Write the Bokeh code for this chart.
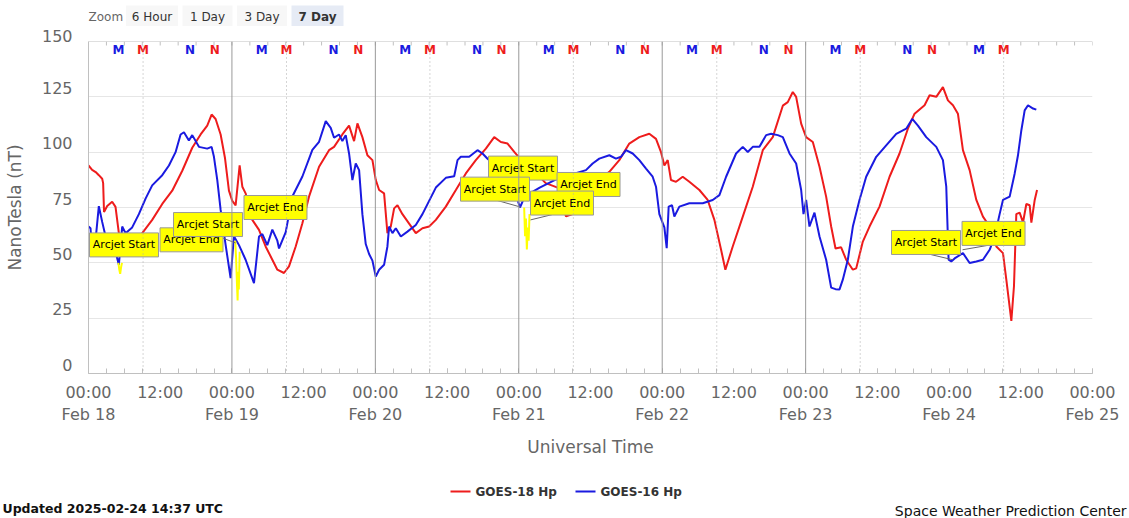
from bokeh.plotting import figure
from bokeh.layouts import column
from bokeh.models import Range1d, FixedTicker, Span
from bokeh.core.properties import value
from bokeh.embed import file_html
from bokeh.resources import INLINE

# ---------------- data (hours since 2025-02-18 00:00 UT) ----------------
g18_t = [0.0, 0.61, 1.2, 1.73, 2.29, 2.45, 2.6, 3.13, 3.96, 4.52, 5.08, 5.36, 6.0, 7.0, 8.0,
         8.99, 10.66, 12.34, 14.01, 15.69, 17.36, 18.76, 19.87, 20.6, 21.27, 22.11, 22.83,
         23.5, 24.06, 24.62, 25.29, 25.74, 26.29, 27.41, 28.53, 29.64, 30.76, 31.6, 32.71,
         33.55, 34.67, 35.79, 36.9, 38.58, 40.25, 41.09, 42.48, 43.6, 44.44, 45.0, 45.83,
         46.67, 47.51, 48.07, 48.63, 49.46, 50.02, 50.58, 51.14, 51.7, 52.53, 53.65, 54.77,
         55.88, 57.0, 58.12, 59.79, 61.47, 63.14, 64.81, 66.49, 67.89, 69.0, 70.12, 71.24,
         71.96, 74.0, 76.5, 78.5, 79.9, 81.0, 82.5, 84.7, 87.15, 88.82, 90.49, 92.17, 93.84,
         94.96, 95.8, 96.36, 96.92, 97.47, 98.31, 99.43, 100.54, 102.22, 103.61, 104.73,
         105.85, 106.57, 107.8, 109.48, 111.15, 112.83, 114.5, 116.18, 117.01, 117.85,
         118.41, 119.25, 120.08, 121.2, 122.32, 123.43, 124.27, 125.0, 125.94, 126.78,
         127.9, 128.46, 129.57, 130.69, 132.36, 134.04, 135.71, 137.11, 138.23, 139.9,
         140.74, 141.86, 142.97, 143.81, 144.65, 145.48, 146.32, 147.44, 148.56, 149.67,
         150.79, 151.91, 153.02, 153.58, 154.42, 154.86, 155.25, 155.81, 156.37, 156.93,
         157.49, 157.77, 158.33, 158.72]
g18_v = [94, 92, 91, 89.6, 88, 86, 73, 75.7, 77.6, 75.3, 63.4, 62, 60, 59, 61,
         63.4, 69.4, 76.6, 82.6, 91.6, 102, 108, 112, 117, 115, 108, 97.5,
         82.6, 78, 76, 94, 84.4, 81.4, 69.4, 64.9, 57.4, 51.4, 46.9, 45.4,
         48.4, 57.4, 67.9, 79.9, 93.4, 100.9, 102.4, 108, 112, 105, 113, 106.8,
         98.6, 96.4, 87.4, 82.9, 81.4, 63.4, 66.4, 74.6, 76, 72, 67.7, 63.4,
         65.6, 66.4, 69.4, 75.4, 82.9, 90.4, 96.4, 101.6, 106.8, 104.6, 103.9, 100.1,
         97.9, 93, 86, 84, 71, 72, 78, 86, 91.1, 96.4, 103.9, 106.8, 108.3,
         106, 100, 94, 96.4, 87.4, 86.6, 88.9, 86.6, 82.9, 78.4, 69.4,
         55.9, 46.9, 57.4, 70.9, 84.4, 100.9, 106.8, 121, 122.6, 127.2,
         125, 112.9, 106.8, 104.6, 93.4, 79.9, 66.4, 56.5, 57, 51.4,
         46.9, 47.5, 59.6, 66.4, 75.4, 88.9, 99.4, 110.6, 117.4, 121.2,
         125.7, 125, 129.4, 123.4, 121.2, 117.4, 100.9, 91.9, 78.4, 70.9,
         66.4, 57.4, 54.4, 42.4, 23.8, 39.4, 72, 72.7, 68.2, 76.6,
         76, 68.2, 78.4, 82.9]

g16_t = [0.0, 0.34, 0.61, 1.17, 1.73, 2.29, 2.85, 3.69, 4.52, 5.08, 5.64, 6.2, 7.31, 8.43,
         9.55, 10.66, 12.34, 13.46, 14.57, 15.41, 15.97, 16.8, 17.36, 18.48, 19.87, 20.6,
         20.99, 21.55, 22.11, 22.95, 23.78, 24.34, 25.18, 26.29, 27.69, 28.53, 29.09, 29.92,
         30.76, 31.6, 31.88, 33.0, 34.11, 35.79, 37.46, 38.58, 39.7, 40.53, 41.09, 41.92,
         42.48, 43.04, 43.6, 44.16, 44.72, 45.28, 45.83, 46.39, 46.95, 47.51, 48.07, 48.63,
         49.46, 50.02, 50.3, 50.86, 51.42, 52.26, 53.37, 54.77, 55.88, 57.0, 58.12, 59.79,
         61.19, 61.75, 62.3, 63.7, 65.09, 65.93, 66.77, 69.0, 71.0, 72.2, 73.0, 75.5, 78.5,
         81.0, 83.24, 84.36, 85.47, 87.15, 88.26, 89.1, 89.94, 91.06, 92.17, 93.29, 94.4,
         94.96, 95.52, 96.36, 96.75, 97.08, 97.64, 98.03, 98.87, 100.54, 102.78, 104.45,
         105.57, 106.69, 108.36, 109.48, 110.32, 111.15, 112.27, 113.39, 114.23, 115.34,
         116.18, 117.3, 118.41, 119.25, 119.64, 120.08, 120.64, 121.48, 122.32, 123.43,
         124.27, 125.0, 125.67, 126.22, 127.06, 127.9, 129.01, 130.13, 131.81, 133.48,
         135.16, 136.83, 137.84, 138.79, 140.18, 141.86, 142.97, 143.53, 143.92, 144.37,
         144.93, 146.32, 147.44, 148.56, 149.67, 150.79, 151.63, 152.46, 153.02, 154.14,
         154.98, 155.53, 156.09, 156.65, 157.21, 158.05, 158.6]
g16_v = [66.4, 65.6, 54.1, 60, 75.6, 68.5, 62, 58, 55, 49.1, 66.4, 63.4, 66, 72,
         79, 85, 89.6, 94, 100, 108, 109, 105.3, 107.7, 102.4, 101.6, 102.4,
         97.9, 87.4, 73.9, 58, 43.1, 62, 58, 51.4, 40.8, 61.9, 63, 58,
         65, 60, 56.5, 63.9, 80, 89, 101, 104.7, 114, 111, 106.5, 108,
         105, 107.7, 99.4, 87.4, 94.9, 91.9, 72, 58.5, 54, 51, 43.8, 46.9,
         49.1, 57.4, 66.4, 63.4, 65.6, 61.9, 64.1, 67.1, 72, 78, 84, 88.4,
         89.1, 96.4, 97.9, 97.9, 100.9, 99.4, 97, 92, 85, 75, 80, 84, 88,
         90, 91.9, 94.9, 97.1, 98.6, 97.1, 97.9, 100.9, 99.4, 96.4, 92.6, 88.9,
         84.4, 72, 66, 56.6, 75.4, 76, 70.9, 75.4, 76.9, 76.9, 78.4,
         80.6, 88.9, 99.4, 102.4, 100.1, 102.4, 102.4, 107.7, 108.3, 107.7,
         106.8, 99.4, 94.9, 82.9, 72, 78.4, 66.4, 72.7, 61.9, 51.4,
         38.8, 38.1, 38, 42.4, 51.4, 66.4, 78.4, 88.9, 97.9, 103.1,
         108.3, 110.6, 115, 112, 106.8, 102.4, 96.4, 84.4, 51.4, 50.6,
         52, 54.4, 49.9, 50.6, 51.4, 55.9, 61.9, 72, 78.4, 79.9,
         90.4, 98.6, 109.8, 118.9, 121.2, 119.7, 119.2]

# arcjet-flagged samples (yellow)
arc1_t = [5.0, 5.15, 5.3, 5.45, 5.6]
arc1_v = [50, 47, 45, 48, 50]
arc2_t = [24.55, 24.7, 24.85, 24.95, 25.05, 25.15, 25.3]
arc2_v = [60, 52, 40, 33, 46, 38, 55]
arc3_t = [72.9, 73.05, 73.2, 73.35, 73.5, 73.65, 73.8]
arc3_v = [75, 62, 70, 56, 66, 60, 72]

# annotation callouts: text, box centre (t, v); connectors start -> anchor
ann_text = ["Arcjet End", "Arcjet Start", "Arcjet Start", "Arcjet End", "Arcjet Start",
            "Arcjet Start", "Arcjet End", "Arcjet End", "Arcjet Start", "Arcjet End"]
ann_t = [17.24, 5.94, 20.0, 31.29, 72.71, 68.02, 83.67, 79.23, 140.14, 151.44]
ann_v = [60.4, 58.1, 67.3, 75.0, 92.8, 83.3, 85.4, 77.0, 59.2, 63.3]
con_t0 = [21.92, 68.1, 78.65, 140.4, 150.94]
con_v0 = [61.7, 78.4, 72.5, 54.1, 58.1]
con_t1 = [24.6, 72.3, 73.96, 144.6, 146.25]
con_v1 = [59.0, 75.2, 69.4, 51.4, 55.9]

# local midnight (M) / noon (N) in UT hours
g16_midnight = 5.0
g18_midnight = 9.13
data_end = 158.6
day_lines = [24, 48, 72, 96, 120]

x_ticks = list(range(0, 169, 12))
day_names = ["Feb 18", "Feb 19", "Feb 20", "Feb 21", "Feb 22", "Feb 23", "Feb 24", "Feb 25"]
y_ticks = [0, 25, 50, 75, 100, 125, 150]

zoom_buttons = ["6 Hour", "1 Day", "3 Day", "7 Day"]
series_names = ["GOES-18 Hp", "GOES-16 Hp"]

RED = "#ee1c1c"
BLUE = "#1a1ae0"
FONT = "DejaVu Sans"
W = 1129

# ---------------- top strip: range selector ----------------
TOP_H = 26
top = figure(width=W, height=TOP_H, output_backend="svg", toolbar_location=None,
             x_range=Range1d(0, W), y_range=Range1d(TOP_H, 0),
             x_axis_type=None, y_axis_type=None, min_border=0, frame_align=False)
top.outline_line_color = None
top.text(x=[88], y=[16], text=["Zoom"], text_font=value(FONT), text_font_size="12px",
         text_color="#666666", text_baseline="middle")
b_cx = [151.5, 207, 261.5, 317]
b_bg = ["#f7f7f7", "#f7f7f7", "#f7f7f7", "#e6ebf5"]
top.rect(x=b_cx, y=[16] * 4, width=[52, 50, 50, 52], height=22,
         fill_color=b_bg, line_color=None)
for i, (txt, cx) in enumerate(zip(zoom_buttons, b_cx)):
    top.text(x=[cx], y=[16], text=[txt], text_font=value(FONT), text_font_size="12px",
             text_color="#333333", text_font_style="bold" if i == 3 else "normal",
             text_align="center", text_baseline="middle")

# ---------------- main chart ----------------
MAIN_H = 460 - TOP_H
FL, FR, FT, FB = 88, 37, 41 - TOP_H, 86
p = figure(width=W, height=MAIN_H, output_backend="svg", toolbar_location=None,
           x_range=Range1d(0, 168), y_range=Range1d(0, 150),
           min_border_left=FL, min_border_right=FR, min_border_top=FT, min_border_bottom=FB,
           x_axis_label="Universal Time", y_axis_label="NanoTesla (nT)", frame_align=False)
p.outline_line_color = None

pxh = (W - FL - FR) / 168.0
pxu = (MAIN_H - FT - FB) / 150.0

xa = p.xaxis[0]
xa.ticker = FixedTicker(ticks=x_ticks, minor_ticks=list(range(0, 169, 3)))
over = {}
for t in x_ticks:
    over[t] = ("00:00\n" + day_names[t // 24]) if t % 24 == 0 else "12:00"
xa.major_label_overrides = over
xa.major_label_text_font = FONT
xa.major_label_text_font_size = "16px"
xa.major_label_text_color = "#666666"
xa.major_label_standoff = 9
xa.major_tick_in = 5
xa.major_tick_out = 0
xa.minor_tick_in = 5
xa.minor_tick_out = 0
xa.major_tick_line_color = "#c0c0c0"
xa.minor_tick_line_color = "#c0c0c0"
xa.axis_line_color = "#c0c0c0"
xa.axis_label_text_font = FONT
xa.axis_label_text_font_size = "17px"
xa.axis_label_text_font_style = "normal"
xa.axis_label_text_color = "#666666"
xa.axis_label_standoff = 10

ya = p.yaxis[0]
ya.ticker = FixedTicker(ticks=y_ticks)
ya.major_label_overrides = {v: "%d\n " % v for v in y_ticks}
ya.major_label_text_line_height = 0.875
ya.major_label_text_font = FONT
ya.major_label_text_font_size = "16px"
ya.major_label_text_color = "#666666"
ya.major_label_standoff = 16
ya.major_tick_in = 0
ya.major_tick_out = 0
ya.minor_tick_line_color = None
ya.axis_line_color = "#c0c0c0"
ya.axis_label_text_font = FONT
ya.axis_label_text_font_size = "17px"
ya.axis_label_text_font_style = "normal"
ya.axis_label_text_color = "#666666"
ya.axis_label_standoff = 14

p.xgrid.grid_line_color = None
p.ygrid.grid_line_color = "#e6e6e6"
p.ygrid.ticker = FixedTicker(ticks=y_ticks)

# top border with small ticks
p.add_layout(Span(location=150, dimension="width", line_color="#c0c0c0", line_width=1))
tk = list(range(0, 169, 3))
p.segment(x0=tk, y0=[150] * len(tk), x1=tk, y1=[150 - 4 / pxu] * len(tk),
          line_color="#c0c0c0", line_width=1)

for d in day_lines:
    p.add_layout(Span(location=d, dimension="height", line_color="#999999", line_width=1))
for k in range(7):
    loc = g18_midnight + 24 * k
    if loc < 168:
        p.add_layout(Span(location=loc, dimension="height", line_color="#aaaaaa",
                          line_width=1, line_dash="1 3"))

# series
p.line(g18_t, g18_v, line_color=RED, line_width=2)
p.line(g16_t, g16_v, line_color=BLUE, line_width=2)
for at, av in ((arc1_t, arc1_v), (arc2_t, arc2_v), (arc3_t, arc3_v)):
    p.line(at, av, line_color="#ffff00", line_width=2)

# M / N markers
mk_x, mk_t, mk_c = [], [], []
for k in range(7):
    for off, lab, col in ((g16_midnight, "M", BLUE), (g18_midnight, "M", RED),
                          (g16_midnight + 12, "N", BLUE), (g18_midnight + 12, "N", RED)):
        t = 24 * k + off
        if t <= data_end:
            mk_x.append(t)
            mk_t.append(lab)
            mk_c.append(col)
p.text(x=mk_x, y=[150 - 9 / pxu] * len(mk_x), text=mk_t, text_color=mk_c,
       text_font=value(FONT), text_font_size="12px", text_font_style="bold",
       text_align="center", text_baseline="middle")

# callouts
p.segment(con_t0, con_v0, con_t1, con_v1, line_color="#666666", line_width=1)
for txt, t, v in zip(ann_text, ann_t, ann_v):
    w = 69 if "Start" in txt else 63
    p.rect(x=[t], y=[v], width=w, height=24, width_units="screen", height_units="screen",
           fill_color="#ffff00", line_color="#999999", line_width=1)
    p.text(x=[t], y=[v], text=[txt], text_font=value(FONT), text_font_size="11px",
           text_color="black", text_align="center", text_baseline="middle")

# ---------------- bottom strip: legend and footer ----------------
Y0 = 460
BOT_H = 518 - Y0
bot = figure(width=W, height=BOT_H, output_backend="svg", toolbar_location=None,
             x_range=Range1d(0, W), y_range=Range1d(518, Y0),
             x_axis_type=None, y_axis_type=None, min_border=0, frame_align=False)
bot.outline_line_color = None
bot.segment(x0=[450, 575], y0=[491, 491], x1=[470, 595], y1=[491, 491],
            line_color=[RED, BLUE], line_width=2)
bot.text(x=[475, 600], y=[491, 491], text=series_names, text_font=value(FONT),
         text_font_size="12px", text_font_style="bold", text_color="#333333",
         text_baseline="middle")
bot.text(x=[2], y=[508], text=["Updated 2025-02-24 14:37 UTC"], text_font=value(FONT),
         text_font_size="12.5px", text_font_style="bold", text_color="#111111",
         text_baseline="middle")
bot.text(x=[1126], y=[510], text=["Space Weather Prediction Center"], text_font=value(FONT),
         text_font_size="14px", text_color="#111111", text_align="right",
         text_baseline="middle")

layout = column(top, p, bot, spacing=0)
open("out.html", "w").write(file_html(layout, INLINE))
